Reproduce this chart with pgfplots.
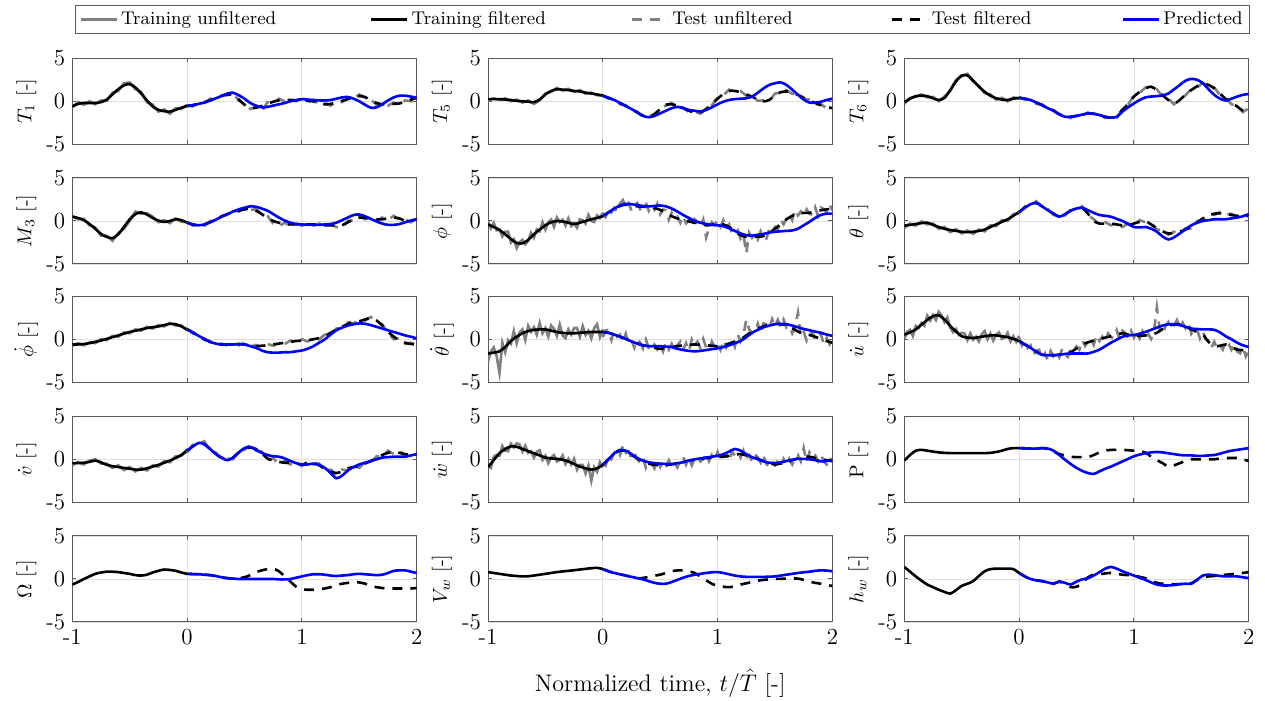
\documentclass[border=0pt]{standalone}
\usepackage{fontspec}
\usepackage{pgfplots}
\usepackage{pgfplotstable}
\pgfplotsset{compat=1.18}

\definecolor{rawgray}{RGB}{128,128,128}
\definecolor{predblue}{RGB}{0,0,255}
\definecolor{frame}{RGB}{90,90,90}

% ---- T_1 ----
\pgfplotstableread{
t r f
-1.00 -0.70 -0.60
-0.95 -0.10 -0.30
-0.90 -0.40 -0.20
-0.85 0.00 -0.20
-0.80 -0.35 -0.20
-0.75 0.10 -0.10
-0.70 0.05 0.20
-0.65 1.00 0.80
-0.60 1.20 1.40
-0.55 2.10 1.85
-0.50 2.20 2.00
-0.45 1.40 1.60
-0.40 1.10 0.90
-0.35 -0.10 0.10
-0.30 -0.40 -0.60
-0.25 -1.20 -1.00
-0.20 -0.95 -1.15
-0.15 -1.45 -1.20
-0.10 -0.80 -1.00
-0.05 -0.90 -0.75
0.00 -0.40 -0.55
}\trA
\pgfplotstableread{
t r f p
0.00 -0.50 -0.55 -0.55
0.05 -0.60 -0.45 -0.45
0.10 -0.20 -0.30 -0.30
0.15 -0.20 -0.10 -0.15
0.20 0.30 0.10 0.10
0.25 0.20 0.35 0.35
0.30 0.70 0.60 0.60
0.35 0.70 0.80 0.90
0.40 0.90 0.70 1.00
0.45 0.10 0.20 0.70
0.50 -0.30 -0.40 0.30
0.55 -0.90 -0.80 -0.20
0.60 -0.60 -0.75 -0.50
0.65 -1.20 -0.55 -0.70
0.70 -0.10 -0.30 -0.65
0.75 -0.20 -0.05 -0.50
0.80 0.30 0.10 -0.35
0.85 0.00 0.15 -0.20
0.90 0.30 0.15 0.00
0.95 0.00 0.10 0.15
1.00 0.25 0.10 0.25
1.05 -0.10 0.05 0.20
1.10 0.15 0.00 0.15
1.15 -0.35 -0.20 0.10
1.20 -0.20 -0.35 0.10
1.25 -0.50 -0.30 0.15
1.30 0.00 -0.15 0.30
1.35 -0.10 0.05 0.45
1.40 0.40 0.25 0.50
1.45 0.30 0.45 0.30
1.50 0.80 0.60 0.00
1.55 0.40 0.50 -0.40
1.60 0.20 0.10 -0.75
1.65 -0.40 -0.20 -0.70
1.70 -0.20 -0.35 -0.35
1.75 -0.50 -0.35 0.10
1.80 -0.15 -0.30 0.45
1.85 -0.40 -0.25 0.65
1.90 0.10 -0.05 0.65
1.95 0.00 0.20 0.55
2.00 0.50 0.40 0.40
}\teA

% ---- T_5 ----
\pgfplotstableread{
t r f
-1.00 0.10 0.25
-0.95 0.35 0.25
-0.90 0.15 0.25
-0.85 0.35 0.20
-0.80 0.00 0.15
-0.75 0.20 0.05
-0.70 -0.15 0.00
-0.65 0.10 -0.05
-0.60 -0.30 -0.10
-0.55 0.10 0.20
-0.50 0.90 0.80
-0.45 1.10 1.20
-0.40 1.55 1.40
-0.35 1.25 1.35
-0.30 1.45 1.30
-0.25 1.10 1.20
-0.20 1.30 1.15
-0.15 0.90 1.00
-0.10 1.00 0.90
-0.05 0.70 0.80
0.00 0.70 0.65
}\trB
\pgfplotstableread{
t r f p
0.00 0.70 0.65 0.65
0.05 0.30 0.40 0.40
0.10 0.25 0.15 0.15
0.15 -0.35 -0.20 -0.20
0.20 -0.45 -0.55 -0.55
0.25 -1.05 -0.90 -0.90
0.30 -1.20 -1.30 -1.30
0.35 -1.80 -1.65 -1.70
0.40 -1.70 -1.80 -1.85
0.45 -1.60 -1.50 -1.70
0.50 -0.80 -0.90 -1.40
0.55 -0.50 -0.40 -1.10
0.60 -0.20 -0.35 -0.80
0.65 -0.65 -0.50 -0.65
0.70 -0.70 -0.80 -0.80
0.75 -1.25 -1.10 -1.00
0.80 -1.20 -1.30 -1.10
0.85 -1.45 -1.30 -1.20
0.90 -0.80 -0.90 -1.00
0.95 -0.45 -0.30 -0.70
1.00 0.40 0.30 -0.35
1.05 0.70 0.85 -0.05
1.10 1.35 1.20 0.15
1.15 1.10 1.20 0.25
1.20 1.20 1.05 0.30
1.25 0.65 0.80 0.35
1.30 0.70 0.55 0.55
1.35 0.05 0.20 1.00
1.40 0.10 0.00 1.50
1.45 0.00 0.15 1.90
1.50 0.90 0.75 2.10
1.55 0.95 1.05 2.20
1.60 1.30 1.15 1.90
1.65 0.85 1.00 1.35
1.70 0.90 0.75 0.75
1.75 0.25 0.40 0.20
1.80 0.20 0.10 -0.15
1.85 -0.35 -0.20 -0.15
1.90 -0.35 -0.45 -0.05
1.95 -0.80 -0.65 0.15
2.00 -0.70 -0.80 0.30
}\teB

% ---- T_6 ----
\pgfplotstableread{
t r f
-1.00 -0.30 -0.10
-0.95 0.40 0.30
-0.90 0.50 0.60
-0.85 0.80 0.65
-0.80 0.45 0.60
-0.75 0.50 0.35
-0.70 0.00 0.15
-0.65 0.55 0.40
-0.60 1.20 1.30
-0.55 2.50 2.30
-0.50 2.90 3.00
-0.45 3.20 3.00
-0.40 2.30 2.40
-0.35 1.80 1.70
-0.30 0.95 1.10
-0.25 0.80 0.65
-0.20 0.20 0.35
-0.15 0.40 0.20
-0.10 0.00 0.15
-0.05 0.45 0.30
0.00 0.30 0.40
}\trC
\pgfplotstableread{
t r f p
0.00 0.50 0.40 0.40
0.05 0.20 0.30 0.30
0.10 0.25 0.15 0.15
0.15 -0.30 -0.15 -0.15
0.20 -0.35 -0.45 -0.45
0.25 -0.95 -0.80 -0.80
0.30 -1.00 -1.10 -1.10
0.35 -1.60 -1.50 -1.50
0.40 -1.70 -1.80 -1.80
0.45 -1.95 -1.80 -1.80
0.50 -1.60 -1.70 -1.70
0.55 -1.70 -1.55 -1.55
0.60 -1.30 -1.40 -1.40
0.65 -1.60 -1.45 -1.45
0.70 -1.50 -1.60 -1.60
0.75 -1.95 -1.80 -1.80
0.80 -1.80 -1.90 -1.90
0.85 -1.95 -1.75 -1.80
0.90 -0.90 -1.00 -1.20
0.95 -0.40 -0.30 -0.70
1.00 0.70 0.55 -0.25
1.05 0.95 1.10 0.15
1.10 1.60 1.50 0.45
1.15 1.55 1.70 0.55
1.20 1.40 1.30 0.60
1.25 0.55 0.70 0.70
1.30 0.30 0.15 0.90
1.35 -0.35 -0.25 1.40
1.40 0.30 0.15 1.90
1.45 0.70 0.80 2.40
1.50 1.45 1.30 2.60
1.55 1.60 1.75 2.50
1.60 2.15 2.00 2.10
1.65 1.80 1.90 1.40
1.70 1.60 1.50 0.75
1.75 0.75 0.90 0.30
1.80 0.40 0.25 0.10
1.85 -0.35 -0.20 0.30
1.90 -0.50 -0.60 0.55
1.95 -1.25 -1.10 0.75
2.00 -0.80 -0.90 0.85
}\teC

% ---- M_3 ----
\pgfplotstableread{
t r f
-1.00 0.60 0.50
-0.95 0.20 0.35
-0.90 0.25 0.10
-0.85 -0.50 -0.35
-0.80 -0.75 -0.90
-0.75 -1.70 -1.50
-0.70 -1.70 -1.85
-0.65 -2.30 -2.00
-0.60 -1.40 -1.55
-0.55 -0.90 -0.70
-0.50 0.00 0.20
-0.45 1.10 0.80
-0.40 0.85 1.00
-0.35 0.90 0.75
-0.30 0.50 0.35
-0.25 -0.15 0.05
-0.20 0.10 -0.10
-0.15 -0.25 0.00
-0.10 0.30 0.20
-0.05 -0.10 0.10
0.00 -0.10 -0.20
}\trD
\pgfplotstableread{
t r f p
0.00 -0.10 -0.20 -0.20
0.05 -0.55 -0.40 -0.40
0.10 -0.35 -0.50 -0.50
0.15 -0.55 -0.40 -0.40
0.20 0.00 -0.15 -0.15
0.25 0.00 0.15 0.15
0.30 0.60 0.50 0.50
0.35 0.70 0.80 0.80
0.40 1.20 1.00 1.10
0.45 1.10 1.20 1.35
0.50 1.50 1.35 1.55
0.55 1.30 1.40 1.70
0.60 1.35 1.20 1.65
0.65 0.90 0.80 1.45
0.70 0.60 0.35 1.20
0.75 -0.30 0.00 0.80
0.80 -0.60 -0.20 0.40
0.85 -0.20 -0.35 0.05
0.90 -0.55 -0.40 -0.20
0.95 -0.25 -0.40 -0.35
1.00 -0.55 -0.40 -0.40
1.05 -0.25 -0.40 -0.45
1.10 -0.55 -0.40 -0.45
1.15 -0.30 -0.45 -0.45
1.20 -0.70 -0.50 -0.40
1.25 -0.35 -0.50 -0.35
1.30 -0.70 -0.55 -0.20
1.35 -0.80 -0.50 0.10
1.40 0.00 -0.15 0.40
1.45 0.10 0.20 0.70
1.50 0.60 0.40 0.75
1.55 0.20 0.35 0.55
1.60 0.50 0.30 0.25
1.65 0.00 0.20 -0.05
1.70 0.40 0.20 -0.30
1.75 0.15 0.30 -0.45
1.80 0.60 0.40 -0.45
1.85 0.10 0.30 -0.35
1.90 0.20 0.00 -0.15
1.95 -0.15 0.05 0.05
2.00 0.30 0.20 0.20
}\teD

% ---- phi ----
\pgfplotstableread{
t f
-1.00 -0.40
-0.95 -0.70
-0.90 -1.05
-0.85 -1.55
-0.80 -2.10
-0.75 -2.55
-0.70 -2.60
-0.65 -2.20
-0.60 -1.55
-0.55 -1.00
-0.50 -0.50
-0.45 -0.15
-0.40 0.00
-0.35 -0.05
-0.30 -0.20
-0.25 -0.35
-0.20 -0.20
-0.15 0.00
-0.10 0.20
-0.05 0.35
0.00 0.55
}\trE
\pgfplotstableread{
t f p
0.00 0.55 0.55
0.05 1.00 1.00
0.10 1.40 1.45
0.15 1.75 1.80
0.20 1.90 2.00
0.25 1.80 1.95
0.30 1.70 1.85
0.35 1.65 1.75
0.40 1.60 1.70
0.45 1.50 1.75
0.50 1.30 1.80
0.55 0.95 1.70
0.60 0.55 1.45
0.65 0.30 1.10
0.70 0.10 0.70
0.75 -0.05 0.35
0.80 -0.20 0.00
0.85 -0.35 -0.20
0.90 -0.50 -0.35
0.95 -0.45 -0.45
1.00 -0.30 -0.50
1.05 -0.40 -0.60
1.10 -0.70 -0.85
1.15 -1.20 -1.15
1.20 -1.65 -1.45
1.25 -1.85 -1.65
1.30 -1.85 -1.70
1.35 -1.85 -1.60
1.40 -1.75 -1.50
1.45 -1.35 -1.35
1.50 -0.90 -1.25
1.55 -0.35 -1.20
1.60 0.20 -1.15
1.65 0.60 -1.10
1.70 0.85 -0.90
1.75 0.95 -0.50
1.80 0.95 -0.10
1.85 1.10 0.35
1.90 1.25 0.70
1.95 1.35 0.85
2.00 1.45 0.85
}\teE
\pgfplotstableread{
t r
-1.000 0.00
-0.975 -0.85
-0.950 -0.20
-0.925 -1.08
-0.900 -0.95
-0.875 -1.80
-0.850 -1.25
-0.825 -1.23
-0.800 -2.50
-0.775 -2.13
-0.750 -3.15
-0.725 -2.48
-0.700 -2.20
-0.675 -2.70
-0.650 -2.30
-0.625 -1.38
-0.600 -1.95
-0.575 -0.98
-0.550 -1.20
-0.525 -0.15
-0.500 -1.00
-0.475 -0.13
-0.450 0.15
-0.425 -0.68
-0.400 0.40
-0.375 -0.13
-0.350 0.15
-0.325 -0.53
-0.300 0.30
-0.275 -0.58
-0.250 -0.25
-0.225 -0.78
-0.200 0.20
-0.175 0.10
-0.150 -0.30
-0.125 0.70
-0.100 0.00
-0.075 -0.12
-0.050 0.65
-0.025 0.35
0.000 0.95
}\rtrE
\pgfplotstableread{
t r
0.000 0.95
0.025 0.48
0.050 1.50
0.075 1.00
0.100 1.50
0.125 1.08
0.150 2.05
0.175 2.43
0.200 1.50
0.225 2.05
0.250 1.20
0.275 1.85
0.300 2.10
0.325 1.38
0.350 1.55
0.375 2.13
0.400 1.20
0.425 1.85
0.450 1.30
0.475 2.00
0.500 0.80
0.525 1.33
0.550 1.25
0.575 0.15
0.600 0.95
0.625 0.33
0.650 0.50
0.675 -0.20
0.700 0.60
0.725 -0.27
0.750 0.05
0.775 -0.63
0.800 0.20
0.825 -0.08
0.850 -0.65
0.875 0.17
0.900 -1.90
0.925 -0.88
0.950 -0.15
0.975 -0.48
1.000 0.10
1.025 -0.65
1.050 0.10
1.075 -0.75
1.100 -0.40
1.125 -1.45
1.150 -1.10
1.175 -1.03
1.200 -2.05
1.225 -1.55
1.250 -3.80
1.275 -1.35
1.300 -1.95
1.325 -1.55
1.350 -2.15
1.375 -1.20
1.400 -1.95
1.425 -2.05
1.450 -0.95
1.475 -1.23
1.500 -0.70
1.525 -1.03
1.550 0.15
1.575 -0.38
1.600 0.30
1.625 0.70
1.650 0.10
1.675 1.33
1.700 0.65
1.725 1.10
1.750 0.55
1.775 1.35
1.800 0.85
1.825 0.73
1.850 1.60
1.875 0.58
1.900 1.55
1.925 1.40
1.950 0.95
1.975 1.90
2.000 1.25
}\rteE

% ---- theta ----
\pgfplotstableread{
t r f
-1.00 -0.80 -0.55
-0.95 -0.30 -0.45
-0.90 -0.55 -0.35
-0.85 -0.05 -0.25
-0.80 -0.40 -0.20
-0.75 -0.30 -0.45
-0.70 -0.90 -0.70
-0.65 -0.70 -0.90
-0.60 -1.30 -1.05
-0.55 -0.95 -1.15
-0.50 -1.45 -1.25
-0.45 -1.10 -1.30
-0.40 -1.50 -1.25
-0.35 -1.00 -1.15
-0.30 -1.20 -1.00
-0.25 -0.50 -0.70
-0.20 -0.60 -0.40
-0.15 0.10 -0.10
-0.10 0.00 0.20
-0.05 0.80 0.60
0.00 0.90 1.05
}\trF
\pgfplotstableread{
t r f p
0.00 0.90 1.05 1.05
0.05 1.70 1.55 1.55
0.10 1.80 1.95 1.95
0.15 2.30 2.10 2.10
0.20 1.60 1.70 1.70
0.25 1.40 1.25 1.25
0.30 0.70 0.85 0.85
0.35 0.60 0.50 0.50
0.40 0.65 0.80 0.80
0.45 1.35 1.20 1.20
0.50 1.30 1.45 1.45
0.55 1.70 1.50 1.55
0.60 0.70 0.85 1.25
0.65 0.20 0.00 0.95
0.70 -0.45 -0.30 0.70
0.75 -0.15 -0.30 0.60
0.80 -0.50 -0.30 0.50
0.85 -0.25 -0.40 0.25
0.90 -0.70 -0.50 0.00
0.95 -0.30 -0.45 -0.35
1.00 -0.45 -0.30 -0.70
1.05 0.10 -0.10 -0.75
1.10 -0.15 0.00 -0.70
1.15 -0.25 -0.40 -0.90
1.20 -1.00 -0.85 -1.25
1.25 -1.05 -1.20 -1.80
1.30 -1.60 -1.45 -2.15
1.35 -1.25 -1.40 -1.90
1.40 -1.45 -1.25 -1.45
1.45 -0.85 -1.00 -0.95
1.50 -0.85 -0.70 -0.50
1.55 0.00 -0.20 -0.20
1.60 0.15 0.30 0.00
1.65 0.85 0.65 0.10
1.70 0.70 0.85 0.20
1.75 1.05 0.90 0.20
1.80 0.70 0.85 0.20
1.85 0.85 0.70 0.30
1.90 0.45 0.60 0.40
1.95 0.75 0.60 0.55
2.00 0.50 0.65 0.80
}\teF

% ---- phi dot ----
\pgfplotstableread{
t r f
-1.00 -0.75 -0.60
-0.95 -0.45 -0.60
-0.90 -0.70 -0.55
-0.85 -0.35 -0.45
-0.80 -0.45 -0.30
-0.75 0.00 -0.15
-0.70 -0.10 0.05
-0.65 0.40 0.25
-0.60 0.30 0.45
-0.55 0.80 0.65
-0.50 0.70 0.85
-0.45 1.15 1.00
-0.40 1.00 1.15
-0.35 1.45 1.30
-0.30 1.25 1.40
-0.25 1.65 1.50
-0.20 1.50 1.65
-0.15 1.90 1.80
-0.10 1.60 1.75
-0.05 1.60 1.50
0.00 1.00 1.15
}\trG
\pgfplotstableread{
t r f p
0.00 1.25 1.15 1.15
0.05 0.65 0.80 0.80
0.10 0.50 0.40 0.40
0.15 -0.10 0.05 0.05
0.20 -0.20 -0.30 -0.30
0.25 -0.65 -0.50 -0.50
0.30 -0.50 -0.60 -0.60
0.35 -0.75 -0.60 -0.60
0.40 -0.50 -0.60 -0.60
0.45 -0.70 -0.55 -0.55
0.50 -0.45 -0.60 -0.60
0.55 -0.85 -0.70 -0.80
0.60 -0.65 -0.80 -1.00
0.65 -0.90 -0.75 -1.30
0.70 -0.55 -0.70 -1.50
0.75 -0.75 -0.60 -1.55
0.80 -0.40 -0.50 -1.55
0.85 -0.55 -0.40 -1.50
0.90 -0.15 -0.30 -1.50
0.95 -0.35 -0.20 -1.40
1.00 0.00 -0.15 -1.30
1.05 -0.25 -0.10 -1.10
1.10 0.15 0.00 -0.80
1.15 0.00 0.15 -0.40
1.20 0.55 0.40 0.00
1.25 0.60 0.75 0.55
1.30 1.25 1.10 1.05
1.35 1.30 1.45 1.35
1.40 1.95 1.80 1.60
1.45 1.85 2.00 1.75
1.50 2.25 2.10 1.85
1.55 2.15 2.30 1.80
1.60 2.60 2.50 1.65
1.65 2.00 2.20 1.45
1.70 1.75 1.60 1.25
1.75 0.75 0.90 1.05
1.80 0.00 0.30 0.85
1.85 0.10 -0.10 0.65
1.90 -0.55 -0.40 0.45
1.95 -0.40 -0.55 0.30
2.00 -0.70 -0.60 0.10
}\teG

% ---- theta dot ----
\pgfplotstableread{
t f
-1.00 -1.65
-0.95 -1.55
-0.90 -1.40
-0.85 -0.90
-0.80 -0.20
-0.75 0.30
-0.70 0.70
-0.65 0.95
-0.60 1.10
-0.55 1.15
-0.50 1.15
-0.45 1.00
-0.40 0.85
-0.35 0.75
-0.30 0.70
-0.25 0.70
-0.20 0.75
-0.15 0.80
-0.10 0.85
-0.05 0.85
0.00 0.85
}\trH
\pgfplotstableread{
t f p
0.00 0.85 0.85
0.05 0.75 0.75
0.10 0.55 0.55
0.15 0.30 0.30
0.20 0.05 0.05
0.25 -0.25 -0.25
0.30 -0.50 -0.50
0.35 -0.70 -0.70
0.40 -0.80 -0.80
0.45 -1.00 -0.80
0.50 -1.10 -0.80
0.55 -1.00 -0.85
0.60 -0.90 -0.90
0.65 -0.80 -1.10
0.70 -0.70 -1.25
0.75 -0.65 -1.35
0.80 -0.60 -1.40
0.85 -0.65 -1.35
0.90 -0.70 -1.25
0.95 -0.75 -1.15
1.00 -0.80 -1.05
1.05 -0.70 -0.90
1.10 -0.50 -0.70
1.15 -0.25 -0.45
1.20 0.00 -0.20
1.25 0.45 0.25
1.30 0.90 0.75
1.35 1.20 1.10
1.40 1.50 1.40
1.45 1.70 1.60
1.50 1.80 1.75
1.55 1.75 1.80
1.60 1.60 1.75
1.65 1.30 1.60
1.70 0.90 1.40
1.75 0.65 1.20
1.80 0.50 1.05
1.85 0.30 0.90
1.90 0.00 0.75
1.95 -0.20 0.55
2.00 -0.40 0.40
}\teH
\pgfplotstableread{
t r
-1.000 -2.55
-0.975 -1.45
-0.950 -0.95
-0.925 -1.93
-0.900 -3.90
-0.875 -0.40
-0.850 -1.50
-0.825 -0.10
-0.800 -0.50
-0.775 0.95
-0.750 -0.45
-0.725 0.80
-0.700 1.15
-0.675 -0.07
-0.650 1.55
-0.625 0.88
-0.600 1.40
-0.575 0.53
-0.550 1.90
-0.525 0.70
-0.500 1.30
-0.475 0.33
-0.450 1.60
-0.425 1.23
-0.400 0.40
-0.375 1.70
-0.350 0.45
-0.325 0.13
-0.300 1.15
-0.275 0.55
-0.250 1.30
-0.225 1.33
-0.200 0.30
-0.175 1.53
-0.150 0.50
-0.125 0.98
-0.100 0.10
-0.075 1.30
-0.050 1.75
-0.025 0.25
0.000 1.15
}\rtrH
\pgfplotstableread{
t r
0.000 0.25
0.025 1.04
0.050 1.11
0.075 -0.07
0.100 1.03
0.125 0.31
0.150 0.54
0.175 -0.30
0.200 0.65
0.225 -0.46
0.250 -0.13
0.275 -0.98
0.300 -0.02
0.325 -0.36
0.350 -1.06
0.375 -0.03
0.400 -1.04
0.425 -1.38
0.450 -0.64
0.475 -1.17
0.500 -0.62
0.525 -1.41
0.550 -0.40
0.575 -1.19
0.600 -0.54
0.625 -1.45
0.650 -0.68
0.675 -0.27
0.700 -1.18
0.725 -0.44
0.750 -1.37
0.775 -0.03
0.800 -0.72
0.825 -0.27
0.850 -1.01
0.875 0.04
0.900 -0.94
0.925 -1.33
0.950 -0.27
0.975 -0.90
1.000 -0.56
1.025 -1.23
1.050 -0.10
1.075 -0.96
1.100 -0.38
1.125 -0.02
1.150 -0.85
1.175 0.59
1.200 -0.24
1.225 0.47
1.250 2.30
1.275 1.16
1.300 0.78
1.325 0.69
1.350 1.80
1.375 0.63
1.400 1.86
1.425 1.72
1.450 1.22
1.475 2.35
1.500 1.56
1.525 2.26
1.550 1.39
1.575 2.28
1.600 1.36
1.625 1.57
1.650 0.70
1.675 1.46
1.700 3.10
1.725 0.30
1.750 0.89
1.775 -0.14
1.800 0.62
1.825 0.88
1.850 -0.06
1.875 0.03
1.900 0.60
1.925 -0.58
1.950 0.16
1.975 -0.54
2.000 0.32
}\rteH

% ---- u dot ----
\pgfplotstableread{
t f
-1.00 0.55
-0.95 0.80
-0.90 1.15
-0.85 1.70
-0.80 2.25
-0.75 2.70
-0.70 2.80
-0.65 2.30
-0.60 1.55
-0.55 0.90
-0.50 0.35
-0.45 0.20
-0.40 0.15
-0.35 0.25
-0.30 0.35
-0.25 0.45
-0.20 0.45
-0.15 0.35
-0.10 0.25
-0.05 0.05
0.00 -0.20
}\trI
\pgfplotstableread{
t f p
0.00 -0.20 -0.20
0.05 -0.60 -0.60
0.10 -1.00 -1.00
0.15 -1.45 -1.45
0.20 -1.80 -1.80
0.25 -1.85 -1.85
0.30 -1.85 -1.85
0.35 -1.80 -1.80
0.40 -1.60 -1.70
0.45 -1.50 -1.65
0.50 -1.05 -1.65
0.55 -0.60 -1.65
0.60 -0.35 -1.65
0.65 -0.15 -1.45
0.70 0.00 -1.20
0.75 0.20 -0.80
0.80 0.35 -0.40
0.85 0.55 -0.05
0.90 0.70 0.30
0.95 0.55 0.45
1.00 0.40 0.50
1.05 0.40 0.65
1.10 0.45 0.85
1.15 0.55 1.10
1.20 0.75 1.35
1.25 1.20 1.60
1.30 1.60 1.75
1.35 1.70 1.75
1.40 1.75 1.65
1.45 1.50 1.45
1.50 1.15 1.25
1.55 0.85 1.20
1.60 0.55 1.15
1.65 -0.30 1.15
1.70 -0.80 1.10
1.75 -0.75 0.80
1.80 -0.60 0.35
1.85 -0.90 0.00
1.90 -1.20 -0.40
1.95 -1.25 -0.70
2.00 -1.25 -0.90
}\teI
\pgfplotstableread{
t r
-1.000 0.05
-0.975 0.88
-0.950 1.10
-0.925 0.38
-0.900 1.55
-0.875 1.33
-0.850 1.90
-0.825 1.58
-0.800 2.75
-0.775 2.18
-0.750 2.80
-0.725 2.25
-0.700 3.20
-0.675 2.75
-0.650 2.00
-0.625 2.53
-0.600 1.35
-0.575 0.83
-0.550 1.20
-0.525 0.53
-0.500 0.75
-0.475 0.68
-0.450 -0.10
-0.425 0.68
-0.400 -0.05
-0.375 0.30
-0.350 -0.25
-0.325 0.60
-0.300 0.95
-0.275 0.00
-0.250 0.65
-0.225 -0.15
-0.200 0.55
-0.175 0.80
-0.150 0.05
-0.125 0.20
-0.100 0.75
-0.075 -0.25
-0.050 0.35
-0.025 -0.28
0.000 0.40
}\rtrI
\pgfplotstableread{
t r
0.000 0.20
0.025 -0.70
0.050 -0.10
0.075 -1.00
0.100 -0.70
0.125 -1.73
0.150 -1.35
0.175 -1.23
0.200 -2.20
0.225 -1.63
0.250 -2.45
0.275 -1.35
0.300 -1.95
0.325 -1.53
0.350 -2.10
0.375 -1.10
0.400 -1.80
0.425 -2.05
0.450 -1.10
0.475 -1.38
0.500 -0.85
0.525 -1.23
0.550 -0.10
0.575 -0.78
0.600 -0.25
0.625 0.05
0.650 -0.65
0.675 0.52
0.700 -0.20
0.725 0.30
0.750 -0.20
0.775 0.68
0.800 0.25
0.825 0.15
0.850 1.05
0.875 0.03
0.900 1.00
0.925 0.73
0.950 0.15
0.975 0.98
1.000 0.20
1.025 0.80
1.050 0.10
1.075 0.93
1.100 0.25
1.125 0.60
1.150 0.05
1.175 0.95
1.200 3.70
1.225 1.18
1.250 0.60
1.275 1.50
1.300 2.00
1.325 1.35
1.350 1.60
1.375 2.23
1.400 1.35
1.425 1.93
1.450 1.30
1.475 1.93
1.500 0.65
1.525 1.20
1.550 1.15
1.575 0.10
1.600 0.95
1.625 0.03
1.650 -0.10
1.675 -0.95
1.700 -0.30
1.725 -1.08
1.750 -0.65
1.775 -1.18
1.800 -0.20
1.825 -0.55
1.850 -1.20
1.875 -0.45
1.900 -1.40
1.925 -1.63
1.950 -0.95
1.975 -2.00
2.000 -1.35
}\rteI

% ---- v dot ----
\pgfplotstableread{
t r f
-1.00 -0.70 -0.45
-0.95 -0.30 -0.45
-0.90 -0.60 -0.40
-0.85 -0.15 -0.30
-0.80 0.00 -0.15
-0.75 -0.50 -0.35
-0.70 -0.50 -0.65
-0.65 -1.00 -0.80
-0.60 -0.70 -0.90
-0.55 -1.25 -1.00
-0.50 -0.90 -1.10
-0.45 -1.40 -1.20
-0.40 -1.00 -1.20
-0.35 -1.30 -1.05
-0.30 -0.70 -0.85
-0.25 -0.85 -0.65
-0.20 -0.20 -0.40
-0.15 -0.35 -0.15
-0.10 0.35 0.15
-0.05 0.40 0.50
0.00 1.20 1.00
}\trJ
\pgfplotstableread{
t r f p
0.00 0.80 1.00 1.00
0.05 1.70 1.50 1.50
0.10 1.80 1.90 1.90
0.15 2.10 1.75 1.75
0.20 1.00 1.20 1.20
0.25 0.80 0.60 0.60
0.30 0.00 0.20 0.20
0.35 0.10 -0.10 -0.10
0.40 0.00 0.20 0.20
0.45 1.00 0.80 0.80
0.50 1.10 1.25 1.30
0.55 1.70 1.35 1.45
0.60 1.00 1.20 1.10
0.65 0.90 0.70 0.75
0.70 -0.10 0.10 0.50
0.75 0.10 -0.15 0.35
0.80 -0.50 -0.30 0.30
0.85 -0.20 -0.40 0.10
0.90 -0.60 -0.40 -0.20
0.95 -0.30 -0.50 -0.45
1.00 -0.80 -0.60 -0.60
1.05 -0.20 -0.45 -0.60
1.10 -0.60 -0.40 -0.50
1.15 -0.50 -0.70 -0.65
1.20 -1.30 -1.10 -1.00
1.25 -1.20 -1.40 -1.60
1.30 -1.85 -1.60 -2.20
1.35 -1.20 -1.40 -1.90
1.40 -1.30 -1.05 -1.30
1.45 -0.70 -0.90 -0.90
1.50 -1.00 -0.80 -0.60
1.55 -0.30 -0.50 -0.40
1.60 -0.40 -0.20 -0.20
1.65 0.35 0.15 0.00
1.70 0.30 0.50 0.20
1.75 1.00 0.75 0.25
1.80 0.60 0.85 0.30
1.85 1.00 0.75 0.30
1.90 0.40 0.60 0.30
1.95 0.80 0.55 0.45
2.00 0.50 0.60 0.60
}\teJ

% ---- w dot ----
\pgfplotstableread{
t f
-1.00 -0.90
-0.95 -0.10
-0.90 0.70
-0.85 1.20
-0.80 1.50
-0.75 1.45
-0.70 1.20
-0.65 0.95
-0.60 0.70
-0.55 0.45
-0.50 0.20
-0.45 0.10
-0.40 0.05
-0.35 -0.05
-0.30 -0.25
-0.25 -0.55
-0.20 -0.85
-0.15 -1.05
-0.10 -1.20
-0.05 -1.05
0.00 -0.65
}\trK
\pgfplotstableread{
t f p
0.00 -0.65 -0.65
0.05 0.00 0.00
0.10 0.65 0.70
0.15 1.00 1.10
0.20 0.95 1.00
0.25 0.50 0.60
0.30 0.10 0.15
0.35 -0.25 -0.15
0.40 -0.50 -0.35
0.45 -0.65 -0.45
0.50 -0.70 -0.50
0.55 -0.65 -0.55
0.60 -0.60 -0.55
0.65 -0.45 -0.45
0.70 -0.30 -0.35
0.75 -0.15 -0.15
0.80 -0.05 0.00
0.85 0.05 0.10
0.90 0.15 0.20
0.95 0.20 0.30
1.00 0.25 0.40
1.05 0.30 0.60
1.10 0.40 0.90
1.15 0.55 1.20
1.20 0.60 1.00
1.25 0.45 0.60
1.30 0.30 0.25
1.35 0.05 0.00
1.40 -0.20 -0.25
1.45 -0.45 -0.40
1.50 -0.60 -0.45
1.55 -0.50 -0.35
1.60 -0.40 -0.20
1.65 -0.10 -0.05
1.70 0.10 0.05
1.75 0.25 0.05
1.80 0.30 0.00
1.85 0.15 -0.10
1.90 0.00 -0.25
1.95 -0.10 -0.20
2.00 -0.20 -0.15
}\teK
\pgfplotstableread{
t r
-1.000 -0.80
-0.975 -1.00
-0.950 0.30
-0.925 0.50
-0.900 0.40
-0.875 1.55
-0.850 1.00
-0.825 0.95
-0.800 1.80
-0.775 1.38
-0.750 1.85
-0.725 1.73
-0.700 0.90
-0.675 1.58
-0.650 0.75
-0.625 0.93
-0.600 0.20
-0.575 0.88
-0.550 1.05
-0.525 -0.07
-0.500 0.40
-0.475 -0.45
-0.450 0.20
-0.425 0.48
-0.400 -0.25
-0.375 -0.10
-0.350 0.45
-0.325 -0.55
-0.300 0.05
-0.275 -0.60
-0.250 0.05
-0.225 -1.20
-0.200 -0.65
-0.175 -0.65
-0.150 -1.65
-0.125 -0.73
-0.100 -2.50
-0.075 -0.93
-0.050 -1.45
-0.025 -0.35
0.000 -0.95
}\rtrK
\pgfplotstableread{
t r
0.000 -0.45
0.025 -0.73
0.050 0.50
0.075 0.03
0.100 0.75
0.125 1.13
0.150 0.50
0.175 1.58
0.200 0.75
0.225 0.93
0.250 0.10
0.275 0.70
0.300 0.00
0.325 -0.38
0.350 0.25
0.375 -0.98
0.400 -0.20
0.425 -0.48
0.450 -1.05
0.475 -0.18
0.500 -0.90
0.525 -0.28
0.550 -0.95
0.575 -0.13
0.600 -0.80
0.625 -0.43
0.650 -0.95
0.675 -0.08
0.700 0.30
0.725 -0.63
0.750 0.05
0.775 -0.70
0.800 0.05
0.825 0.40
0.850 -0.25
0.875 0.00
0.900 0.65
0.925 -0.22
0.950 0.50
0.975 0.03
1.000 0.85
1.025 -0.22
1.050 0.50
1.075 0.65
1.100 -0.20
1.125 0.88
1.150 0.45
1.175 0.78
1.200 0.20
1.225 1.03
1.250 0.15
1.275 0.48
1.300 -0.20
1.325 0.58
1.350 0.25
1.375 -0.38
1.400 0.40
1.425 -0.53
1.450 -0.85
1.475 -0.23
1.500 -0.70
1.525 -0.15
1.550 -0.80
1.575 0.05
1.600 -0.60
1.625 0.05
1.650 -0.60
1.675 0.10
1.700 0.50
1.725 -0.22
1.750 1.30
1.775 -0.32
1.800 0.80
1.825 0.13
1.850 0.45
1.875 -0.22
1.900 0.60
1.925 -0.25
1.950 -0.60
1.975 0.25
2.000 -0.30
}\rteK

% ---- P ----
\pgfplotstableread{
t f
-1.00 -0.15
-0.95 0.50
-0.90 1.00
-0.85 1.10
-0.80 1.00
-0.75 0.90
-0.70 0.80
-0.65 0.75
-0.60 0.72
-0.55 0.72
-0.50 0.72
-0.45 0.72
-0.40 0.72
-0.35 0.72
-0.30 0.72
-0.25 0.75
-0.20 0.85
-0.15 1.00
-0.10 1.20
-0.05 1.30
0.00 1.30
}\trL
\pgfplotstableread{
t f p
0.00 1.30 1.30
0.05 1.28 1.28
0.10 1.25 1.25
0.15 1.25 1.25
0.20 1.30 1.30
0.25 1.20 1.25
0.30 0.90 1.00
0.35 0.60 0.50
0.40 0.45 -0.05
0.45 0.30 -0.55
0.50 0.25 -1.00
0.55 0.25 -1.35
0.60 0.25 -1.60
0.65 0.50 -1.70
0.70 0.80 -1.40
0.75 1.00 -1.10
0.80 1.10 -0.85
0.85 1.10 -0.55
0.90 1.10 -0.25
0.95 1.05 0.05
1.00 1.00 0.35
1.05 0.90 0.55
1.10 0.80 0.70
1.15 0.30 0.80
1.20 -0.10 0.85
1.25 -0.45 0.80
1.30 -0.85 0.70
1.35 -0.70 0.60
1.40 -0.45 0.50
1.45 -0.20 0.45
1.50 0.00 0.45
1.55 0.00 0.40
1.60 0.00 0.40
1.65 0.00 0.45
1.70 0.00 0.50
1.75 0.10 0.65
1.80 0.15 0.85
1.85 0.15 1.00
1.90 0.15 1.10
1.95 0.00 1.20
2.00 -0.20 1.30
}\teL

% ---- Omega ----
\pgfplotstableread{
t f
-1.00 -0.65
-0.95 -0.35
-0.90 0.00
-0.85 0.30
-0.80 0.60
-0.75 0.75
-0.70 0.85
-0.65 0.85
-0.60 0.80
-0.55 0.70
-0.50 0.60
-0.45 0.45
-0.40 0.40
-0.35 0.50
-0.30 0.75
-0.25 0.95
-0.20 1.10
-0.15 1.05
-0.10 0.95
-0.05 0.75
0.00 0.60
}\trM
\pgfplotstableread{
t f p
0.00 0.60 0.60
0.05 0.57 0.57
0.10 0.55 0.55
0.15 0.50 0.50
0.20 0.45 0.45
0.25 0.35 0.35
0.30 0.20 0.20
0.35 0.10 0.10
0.40 0.05 0.05
0.45 0.10 0.00
0.50 0.20 0.00
0.55 0.45 0.00
0.60 0.80 0.00
0.65 1.00 0.00
0.70 1.15 0.00
0.75 1.20 0.00
0.80 0.90 -0.05
0.85 0.30 -0.05
0.90 -0.30 0.00
0.95 -0.90 0.15
1.00 -1.20 0.30
1.05 -1.25 0.45
1.10 -1.25 0.55
1.15 -1.20 0.55
1.20 -1.10 0.50
1.25 -0.95 0.40
1.30 -0.70 0.35
1.35 -0.55 0.40
1.40 -0.45 0.45
1.45 -0.40 0.55
1.50 -0.40 0.60
1.55 -0.55 0.55
1.60 -0.80 0.50
1.65 -0.95 0.45
1.70 -1.05 0.50
1.75 -1.10 0.70
1.80 -1.10 0.95
1.85 -1.10 1.00
1.90 -1.10 1.00
1.95 -1.10 0.85
2.00 -1.05 0.70
}\teM

% ---- V_w ----
\pgfplotstableread{
t f
-1.00 0.80
-0.95 0.70
-0.90 0.60
-0.85 0.50
-0.80 0.40
-0.75 0.35
-0.70 0.30
-0.65 0.32
-0.60 0.40
-0.55 0.50
-0.50 0.60
-0.45 0.70
-0.40 0.80
-0.35 0.88
-0.30 0.95
-0.25 1.02
-0.20 1.10
-0.15 1.18
-0.10 1.25
-0.05 1.30
0.00 1.15
}\trN
\pgfplotstableread{
t f p
0.00 1.15 1.15
0.05 0.90 0.90
0.10 0.70 0.70
0.15 0.55 0.55
0.20 0.40 0.40
0.25 0.25 0.25
0.30 0.10 0.10
0.35 0.12 -0.05
0.40 0.25 -0.25
0.45 0.38 -0.45
0.50 0.50 -0.55
0.55 0.70 -0.55
0.60 0.90 -0.35
0.65 1.00 -0.10
0.70 1.00 0.15
0.75 0.90 0.35
0.80 0.70 0.50
0.85 0.30 0.60
0.90 -0.15 0.70
0.95 -0.55 0.78
1.00 -0.80 0.80
1.05 -0.90 0.70
1.10 -0.95 0.55
1.15 -0.85 0.40
1.20 -0.65 0.30
1.25 -0.50 0.25
1.30 -0.35 0.25
1.35 -0.20 0.25
1.40 -0.10 0.25
1.45 -0.05 0.27
1.50 0.00 0.30
1.55 0.02 0.40
1.60 0.05 0.50
1.65 0.05 0.60
1.70 0.05 0.70
1.75 -0.10 0.78
1.80 -0.30 0.85
1.85 -0.45 0.95
1.90 -0.55 1.00
1.95 -0.70 0.98
2.00 -0.80 0.90
}\teN

% ---- h_w ----
\pgfplotstableread{
t f
-1.00 1.40
-0.95 0.85
-0.90 0.30
-0.85 -0.20
-0.80 -0.65
-0.75 -0.95
-0.70 -1.25
-0.65 -1.50
-0.60 -1.70
-0.55 -1.30
-0.50 -0.80
-0.45 -0.55
-0.40 -0.25
-0.35 0.35
-0.30 0.90
-0.25 1.15
-0.20 1.20
-0.15 1.20
-0.10 1.20
-0.05 1.15
0.00 0.70
}\trO
\pgfplotstableread{
t f p
0.00 0.70 0.70
0.05 0.30 0.30
0.10 0.00 0.00
0.15 -0.15 -0.15
0.20 -0.25 -0.25
0.25 -0.40 -0.40
0.30 -0.55 -0.55
0.35 -0.30 -0.30
0.40 -0.60 -0.45
0.45 -0.95 -0.65
0.50 -0.90 -0.30
0.55 -0.50 -0.05
0.60 0.20 0.10
0.65 0.50 0.40
0.70 0.55 0.80
0.75 0.65 1.20
0.80 0.70 1.40
0.85 0.60 1.20
0.90 0.50 0.90
0.95 0.45 0.65
1.00 0.40 0.40
1.05 0.25 0.15
1.10 0.10 -0.10
1.15 -0.20 -0.40
1.20 -0.45 -0.65
1.25 -0.55 -0.75
1.30 -0.60 -0.75
1.35 -0.60 -0.70
1.40 -0.60 -0.60
1.45 -0.55 -0.55
1.50 -0.50 -0.55
1.55 -0.10 -0.10
1.60 0.20 0.40
1.65 0.30 0.50
1.70 0.35 0.45
1.75 0.40 0.35
1.80 0.50 0.30
1.85 0.55 0.30
1.90 0.65 0.30
1.95 0.70 0.20
2.00 0.80 0.10
}\teO

\pgfplotsset{
  panel/.style={anchor=south west,scale only axis,width=172.2pt,height=43pt,
    xmin=-1,xmax=2,ymin=-5,ymax=5,
    xtick={-1,0,1,2},ytick={-5,0,5},yticklabels={-5,0,5},xticklabels={},
    grid=major,grid style={black!12,line width=0.4pt},
    axis line style={frame,line width=0.5pt},
    major tick style={frame,line width=0.5pt},major tick length=2pt,tick align=inside,
    tick label style={font=\fontsize{11.5}{12}\selectfont},
    label style={font=\fontsize{12}{13}\selectfont},
    every axis y label/.style={at={(axis description cs:-0.1336,0.5)},rotate=90,anchor=center},
    legend image code/.code={\draw[##1] (0pt,0pt) -- (18pt,0pt);}},
  trraw/.style={rawgray,line width=1.3pt},
  trfilt/.style={black,line width=1.3pt,smooth},
  teraw/.style={rawgray,line width=1.3pt,dash pattern=on 5pt off 4pt},
  tefilt/.style={black,line width=1.3pt,dash pattern=on 5pt off 4pt,smooth},
  pred/.style={predblue,line width=1.3pt,smooth},
}

% raw values kept in the same tables as the filtered ones
\newcommand{\rawpanel}[6]{%
\begin{axis}[panel,at={(#1,#2)},ylabel={#3},#6]
\addplot[trraw] table[x=t,y=r]{#4};
\addplot[trfilt] table[x=t,y=f]{#4};
\addplot[teraw] table[x=t,y=r]{#5};
\addplot[tefilt] table[x=t,y=f]{#5};
\addplot[pred] table[x=t,y=p]{#5};
\end{axis}}
% raw values sampled more densely, in their own tables
\newcommand{\densepanel}[8]{%
\begin{axis}[panel,at={(#1,#2)},ylabel={#3},#6]
\addplot[trraw] table[x=t,y=r]{#7};
\addplot[trfilt] table[x=t,y=f]{#4};
\addplot[teraw] table[x=t,y=r]{#8};
\addplot[tefilt] table[x=t,y=f]{#5};
\addplot[pred] table[x=t,y=p]{#5};
\end{axis}}
% raw identical to filtered: only filtered and predicted drawn
\newcommand{\cleanpanel}[6]{%
\begin{axis}[panel,at={(#1,#2)},ylabel={#3},#6]
\addplot[trfilt] table[x=t,y=f]{#4};
\addplot[tefilt] table[x=t,y=f]{#5};
\addplot[pred] table[x=t,y=p]{#5};
\end{axis}}

\begin{document}
\begin{tikzpicture}
\useasboundingbox (0,0) rectangle (632.5pt,350.5pt);
% row 1
\rawpanel{36.15pt}{278.35pt}{$T_1$ [-]}{\trA}{\teA}{legend columns=5,
  legend entries={\makebox[123pt][l]{Training unfiltered},\makebox[108pt][l]{Training filtered},\makebox[107.5pt][l]{Test unfiltered},\makebox[93.5pt][l]{Test filtered},Predicted},
  legend style={at={(0.0078,1.62)},anchor=north west,draw=frame,line width=0.5pt,fill=white,
    font=\fontsize{9.2}{10}\selectfont,inner xsep=2pt,inner ysep=2pt,column sep=0pt,
    nodes={inner xsep=1.5pt,inner ysep=1pt}}}
\rawpanel{244pt}{278.35pt}{$T_5$ [-]}{\trB}{\teB}{}
\rawpanel{452.15pt}{278.35pt}{$T_6$ [-]}{\trC}{\teC}{}
% row 2
\rawpanel{36.15pt}{218.5pt}{$M_3$ [-]}{\trD}{\teD}{}
\densepanel{244pt}{218.5pt}{$\phi$ [-]}{\trE}{\teE}{}{\rtrE}{\rteE}
\rawpanel{452.15pt}{218.5pt}{$\theta$ [-]}{\trF}{\teF}{}
% row 3
\rawpanel{36.15pt}{159.35pt}{$\dot{\phi}$ [-]}{\trG}{\teG}{}
\densepanel{244pt}{159.35pt}{$\dot{\theta}$ [-]}{\trH}{\teH}{}{\rtrH}{\rteH}
\densepanel{452.15pt}{159.35pt}{$\dot{u}$ [-]}{\trI}{\teI}{}{\rtrI}{\rteI}
% row 4
\rawpanel{36.15pt}{99.35pt}{$\dot{v}$ [-]}{\trJ}{\teJ}{}
\densepanel{244pt}{99.35pt}{$\dot{w}$ [-]}{\trK}{\teK}{}{\rtrK}{\rteK}
\cleanpanel{452.15pt}{99.35pt}{$\mathrm{P}$ [-]}{\trL}{\teL}{}
% row 5
\cleanpanel{36.15pt}{39.5pt}{$\Omega$ [-]}{\trM}{\teM}{xticklabels={-1,0,1,2}}
\cleanpanel{244pt}{39.5pt}{$V_w$ [-]}{\trN}{\teN}{xticklabels={-1,0,1,2},
  xlabel={Normalized time, $t/\hat{T}$ [-]},
  xlabel style={at={(axis description cs:0.5,0)},anchor=center,yshift=-30.5pt}}
\cleanpanel{452.15pt}{39.5pt}{$h_w$ [-]}{\trO}{\teO}{xticklabels={-1,0,1,2}}
\end{tikzpicture}
\end{document}
